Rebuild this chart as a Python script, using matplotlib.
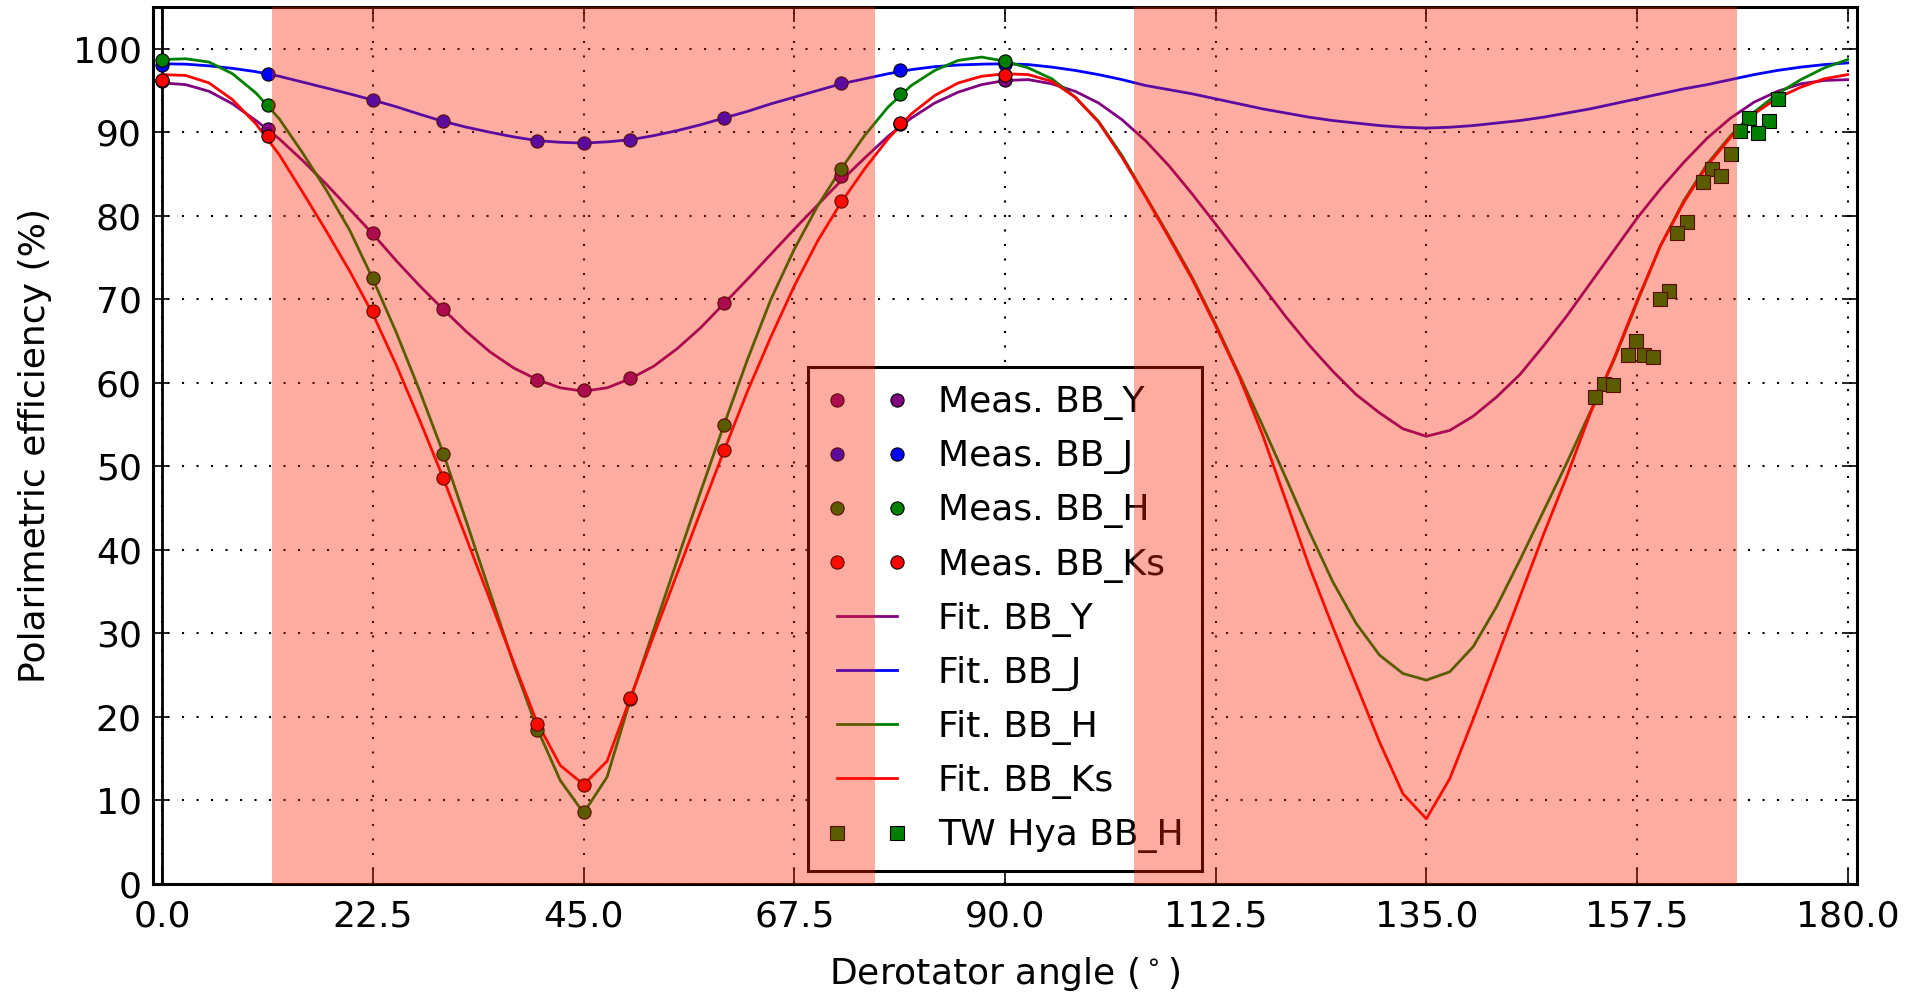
import matplotlib
matplotlib.use('Agg')
import matplotlib.pyplot as plt
from matplotlib.ticker import FixedLocator, FixedFormatter

plt.rcParams['lines.scale_dashes'] = False
plt.rcParams['font.family'] = ['DejaVu Sans']
plt.rcParams['mathtext.fontset'] = 'dejavusans'

# ---------------- data ----------------
meas_angle = [0, 11.25, 22.5, 30, 40, 45, 50, 60, 72.5, 78.75, 90]
meas_Y = [96.1, 90.4, 77.9, 68.8, 60.3, 59.1, 60.6, 69.6, 84.8, 91.0, 96.3]
meas_J = [98.1, 97.0, 93.85, 91.3, 89.0, 88.7, 89.1, 91.7, 95.95, 97.45, 98.2]
meas_H = [98.65, 93.25, 72.5, 51.5, 18.4, 8.65, 22.1, 55.0, 85.6, 94.6, 98.5]
meas_Ks = [96.3, 89.6, 68.6, 48.6, 19.2, 11.9, 22.3, 51.9, 81.8, 91.1, 96.8]

fit_angle = [0, 2.5, 5, 7.5, 10, 12.5, 15, 17.5, 20, 22.5, 25, 27.5, 30, 32.5,
             35, 37.5, 40, 42.5, 45, 47.5, 50, 52.5, 55, 57.5, 60, 62.5, 65,
             67.5, 70, 72.5, 75, 77.5, 80, 82.5, 85, 87.5, 90, 92.5, 95, 97.5,
             100, 102.5, 105, 107.5, 110, 112.5, 115, 117.5, 120, 122.5, 125,
             127.5, 130, 132.5, 135, 137.5, 140, 142.5, 145, 147.5, 150, 152.5,
             155, 157.5, 160, 162.5, 165, 167.5, 170, 172.5, 175, 177.5, 180]
fit_Y = [95.9, 95.7, 94.9, 93.4, 91.4, 89.2, 86.6, 83.8, 80.8, 77.8, 74.6, 71.6,
         68.8, 66.1, 63.7, 61.8, 60.4, 59.4, 59.0, 59.4, 60.5, 62.0, 64.1, 66.6,
         69.5, 72.4, 75.4, 78.4, 81.3, 84.2, 86.9, 89.5, 91.7, 93.5, 94.8, 95.7,
         96.2, 96.3, 95.8, 94.9, 93.5, 91.5, 89.0, 86.0, 82.6, 79.0, 75.3, 71.6,
         67.9, 64.5, 61.4, 58.6, 56.4, 54.5, 53.6, 54.3, 56.0, 58.3, 61.0, 64.4,
         68.0, 71.9, 75.8, 79.7, 83.2, 86.4, 89.3, 91.7, 93.6, 94.9, 95.8, 96.2,
         96.3]
fit_J = [98.2, 98.15, 97.95, 97.65, 97.25, 96.7, 96.0, 95.3, 94.6, 93.85, 93.05,
         92.15, 91.3, 90.6, 90.0, 89.45, 89.0, 88.8, 88.7, 88.85, 89.1, 89.6,
         90.2, 90.9, 91.7, 92.5, 93.4, 94.2, 95.0, 95.8, 96.4, 97.0, 97.5, 97.85,
         98.05, 98.15, 98.2, 98.1, 97.8, 97.4, 96.9, 96.3, 95.6, 95.1, 94.6,
         94.0, 93.4, 92.8, 92.3, 91.8, 91.4, 91.1, 90.8, 90.6, 90.5, 90.6, 90.8,
         91.1, 91.4, 91.8, 92.3, 92.8, 93.4, 94.0, 94.6, 95.2, 95.7, 96.3, 96.9,
         97.4, 97.8, 98.1, 98.3]
fit_H = [98.7, 98.8, 98.4, 97.0, 94.7, 91.6, 87.5, 83.1, 78.3, 72.4, 66.0, 59.0,
         51.6, 43.3, 34.9, 26.4, 18.7, 12.4, 8.5, 12.8, 22.1, 30.5, 38.8, 47.0,
         55.0, 62.8, 70.0, 76.0, 81.2, 85.6, 89.6, 93.0, 95.6, 97.4, 98.6, 99.0,
         98.5, 97.7, 96.4, 94.2, 91.3, 87.2, 82.4, 77.6, 72.6, 67.0, 61.0, 54.9,
         48.6, 42.2, 36.2, 31.2, 27.4, 25.2, 24.4, 25.4, 28.4, 33.2, 38.8, 44.6,
         50.4, 56.5, 62.6, 69.6, 76.4, 81.8, 86.2, 89.6, 92.4, 94.6, 96.3, 97.7,
         98.7]
fit_Ks = [96.9, 96.8, 95.9, 93.9, 91.0, 87.3, 82.8, 78.2, 73.4, 68.2, 62.1, 55.5,
          48.6, 41.3, 34.0, 26.6, 19.4, 14.2, 11.9, 14.7, 22.3, 29.8, 37.2, 44.6,
          51.9, 59.0, 65.5, 71.6, 77.0, 81.6, 85.6, 89.2, 92.2, 94.4, 95.9, 96.7,
          97.0, 96.9, 96.1, 94.2, 91.2, 87.0, 82.3, 77.4, 72.4, 66.8, 60.8, 53.8,
          45.9, 38.0, 30.8, 23.9, 17.0, 10.8, 7.8, 12.6, 19.7, 27.0, 34.4, 41.8,
          48.8, 56.3, 62.8, 69.8, 76.4, 81.6, 86.0, 89.4, 92.2, 94.1, 95.4, 96.4,
          96.9]

tw_angle = [172.6, 169.5, 171.6, 168.5, 170.4, 167.5, 165.5, 166.5, 164.55, 162.8,
            161.8, 160.9, 160.0, 157.4, 156.5, 158.2, 159.2, 153.95, 154.9, 153.05]
tw_eff = [94.0, 91.7, 91.3, 90.2, 89.9, 87.4, 85.6, 84.8, 84.0, 79.2,
          77.9, 71.0, 70.0, 65.0, 63.3, 63.3, 63.1, 59.85, 59.75, 58.25]

shade_regions = [(11.75, 76.15), (103.75, 168.15)]

x_ticks = [0, 22.5, 45, 67.5, 90, 112.5, 135, 157.5, 180]
x_ticklabels = ['0.0', '22.5', '45.0', '67.5', '90.0', '112.5', '135.0', '157.5', '180.0']
y_ticks = [0, 10, 20, 30, 40, 50, 60, 70, 80, 90, 100]

series = [
    ('Y', meas_Y, fit_Y, 'purple'),
    ('J', meas_J, fit_J, 'blue'),
    ('H', meas_H, fit_H, 'green'),
    ('Ks', meas_Ks, fit_Ks, 'red'),
]

# ---------------- figure ----------------
fig = plt.figure(figsize=(19.07, 9.94), dpi=100)
ax = fig.add_axes([0.0802, 0.1107, 0.8936, 0.8823])

FS = 26
MS = 9.5

for name, m, f, c in series:
    ax.plot(meas_angle, m, linestyle='none', marker='o', color=c, mec='k',
            mew=0.8, ms=MS, zorder=4, label='Meas. BB_' + name)
for name, m, f, c in series:
    ax.plot(fit_angle, f, '-', color=c, lw=2.0, zorder=3, label='Fit. BB_' + name)
ax.plot(tw_angle, tw_eff, linestyle='none', marker='s', color='green', mec='k',
        mew=0.8, ms=MS, zorder=4, label='TW Hya BB_H')

for a, b in shade_regions:
    ax.axvspan(a, b, color=(0.97, 0.125, 0.0), alpha=0.373, lw=0, zorder=10)

ax.axvline(0, color='k', lw=2.0, zorder=2.6)

ax.set_xlim(-1, 181)
ax.set_ylim(0, 105)
ax.xaxis.set_major_locator(FixedLocator(x_ticks))
ax.xaxis.set_major_formatter(FixedFormatter(x_ticklabels))
ax.yaxis.set_major_locator(FixedLocator(y_ticks))

ax.grid(True, color='k', linestyle=(0, (1.5, 8.94)), linewidth=1.5)
ax.tick_params(direction='in', length=10.8, width=1.2, top=True, right=True,
               labelsize=FS)
ax.tick_params(axis='x', pad=11)
ax.tick_params(axis='y', pad=8)
for s in ax.spines.values():
    s.set_linewidth(2.2)

ax.set_xlabel('Derotator angle ($^\\circ$)', fontsize=FS, labelpad=16)
ax.set_ylabel('Polarimetric efficiency (%)', fontsize=FS, labelpad=15)

leg = ax.legend(loc='lower center', numpoints=2, fontsize=FS, handlelength=2.27,
                handletextpad=0.83, labelspacing=0.53, borderpad=0.5,
                fancybox=False, framealpha=1, edgecolor='k', borderaxespad=0.35)
leg.get_frame().set_linewidth(2.2)

fig.savefig('out.png', dpi=100)
